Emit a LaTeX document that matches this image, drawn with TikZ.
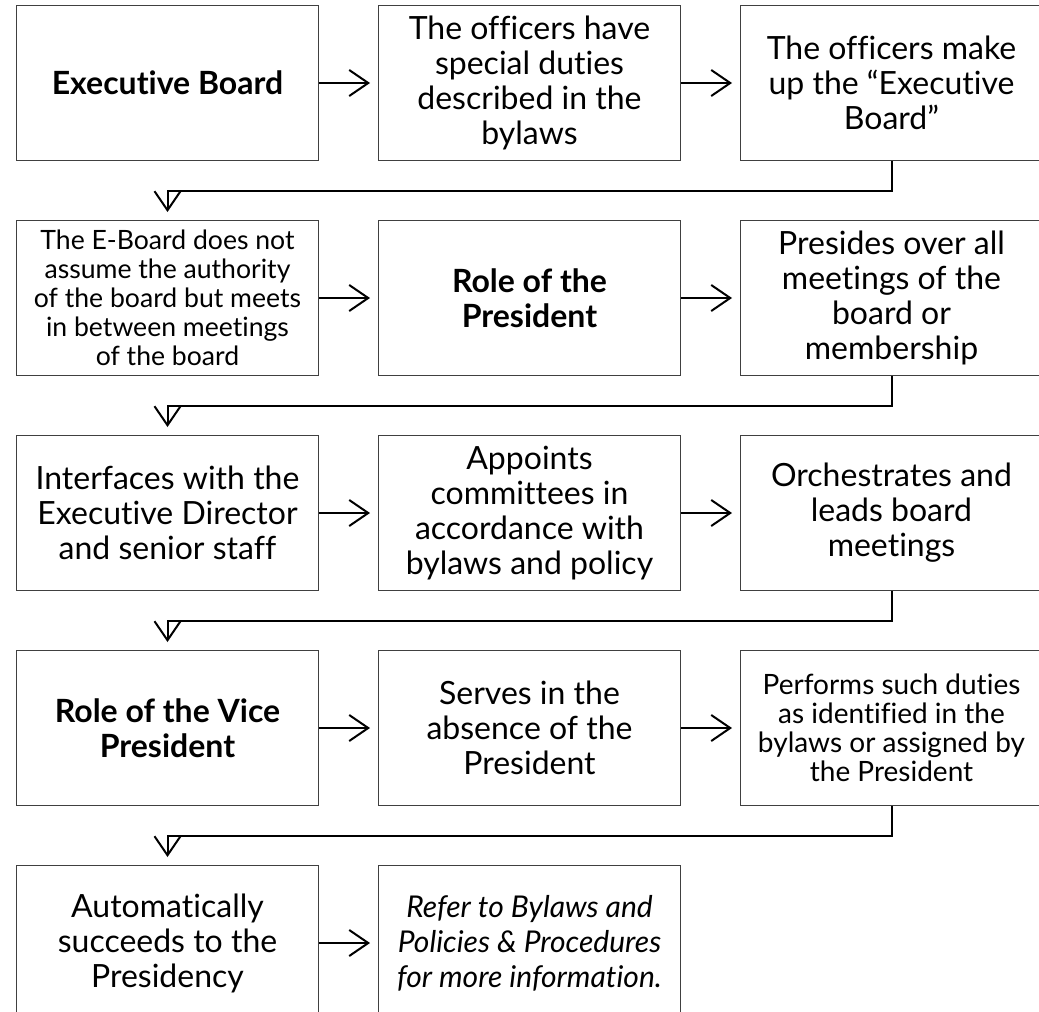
\documentclass[tikz,border=0pt]{standalone}
\usepackage{fontspec}
\setmainfont{Lato}[Ligatures=NoCommon]
\usetikzlibrary{positioning,arrows.meta}

\begin{document}
\begin{tikzpicture}[
  box/.style={draw=black!75, line width=0.5pt, minimum width=151pt, minimum height=77.5pt,
    inner sep=2pt, align=center, font=\fontsize{16}{17.5}\selectfont},
  flow/.style={line width=1pt, -{Straight Barb[length=9.5pt,width=13pt]}, shorten >=4pt},
  node distance=29.5pt and 29.5pt]
\useasboundingbox (0,0) rectangle (519.5pt,-506pt);
% row 1
\node[box, anchor=north west] (exec) at (8pt,-2.5pt) {\bfseries Executive Board};
\node[box, right=of exec] (duties) {The officers have\\special duties\\described in the\\bylaws};
\node[box, right=of duties] (makeup) {The officers make\\up the “Executive\\Board”};
% row 2
\node[box, below=of exec, font=\fontsize{13.3}{14.5}\selectfont] (noauth) {The E-Board does not\\assume the authority\\of the board but meets\\in between meetings\\of the board};
\node[box, right=of noauth] (prrole) {\bfseries Role of the\\\bfseries President};
\node[box, right=of prrole] (presides) {Presides over all\\meetings of the\\board or\\membership};
% row 3
\node[box, below=of noauth] (interf) {Interfaces with the\\Executive Director\\and senior staff};
\node[box, right=of interf] (appoints) {Appoints\\committees in\\accordance with\\bylaws and policy};
\node[box, right=of appoints] (orch) {Orchestrates and\\leads board\\meetings};
% row 4
\node[box, below=of interf] (vprole) {\bfseries Role of the Vice\\\bfseries President};
\node[box, right=of vprole] (serves) {Serves in the\\absence of the\\President};
\node[box, right=of serves, font=\fontsize{14}{14.5}\selectfont] (performs) {Performs such duties\\as identified in the\\bylaws or assigned by\\the President};
% row 5
\node[box, below=of vprole] (succeeds) {Automatically\\succeeds to the\\Presidency};
\node[box, right=of succeeds, font=\fontsize{15}{17.5}\selectfont\itshape] (refer) {Refer to Bylaws and\\Policies \& Procedures\\for more information.};
% arrows along the rows
\draw[flow] (exec) -- (duties);
\draw[flow] (duties) -- (makeup);
\draw[flow] (noauth) -- (prrole);
\draw[flow] (prrole) -- (presides);
\draw[flow] (interf) -- (appoints);
\draw[flow] (appoints) -- (orch);
\draw[flow] (vprole) -- (serves);
\draw[flow] (serves) -- (performs);
\draw[flow] (succeeds) -- (refer);
% arrows back to the next row
\draw[flow] (makeup.south) -- ++(0,-14.75pt) -| (noauth.north);
\draw[flow] (presides.south) -- ++(0,-14.75pt) -| (interf.north);
\draw[flow] (orch.south) -- ++(0,-14.75pt) -| (vprole.north);
\draw[flow] (performs.south) -- ++(0,-14.75pt) -| (succeeds.north);
\end{tikzpicture}
\end{document}
